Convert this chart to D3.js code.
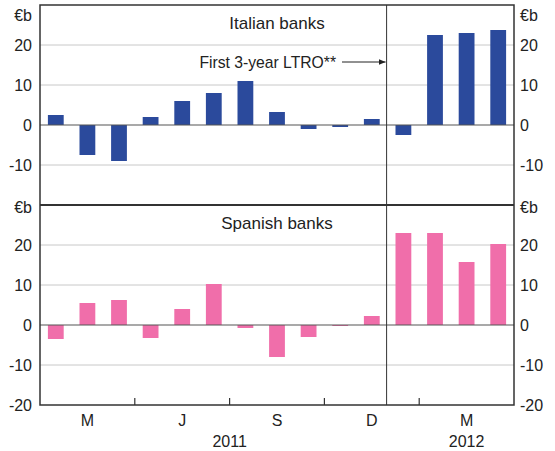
<!DOCTYPE html>
<html>
<head>
<meta charset="utf-8">
<script src="https://cdn.jsdelivr.net/npm/d3@7"></script>
<style>
  body { margin: 0; background: #fff; }
  svg text { font-family: "Liberation Sans", Arial, sans-serif; fill: #222; }
</style>
</head>
<body>
<div id="chart"></div>
<script>
// Monthly net change, Feb 2011 to Apr 2012 (€b)
const months = ["Feb-11", "Mar-11", "Apr-11", "May-11", "Jun-11", "Jul-11", "Aug-11", "Sep-11",
                "Oct-11", "Nov-11", "Dec-11", "Jan-12", "Feb-12", "Mar-12", "Apr-12"];
const italian = [2.5, -7.5, -9, 2, 6, 8, 11, 3.25, -1, -0.5, 1.5, -2.5, 22.5, 23, 23.75];
const spanish = [-3.5, 5.5, 6.25, -3.25, 4, 10.25, -0.75, -8, -3, -0.25, 2.25, 23, 23, 15.75, 20.25];

const monthLabels = [{ m: "Mar-11", t: "M" }, { m: "Jun-11", t: "J" }, { m: "Sep-11", t: "S" },
                     { m: "Dec-11", t: "D" }, { m: "Mar-12", t: "M" }];
const yTicks = [-10, 0, 10, 20];

const W = 555, H = 451;
const margin = { left: 40, right: 41, top: 5 };
const panelH = 200;

const svg = d3.select("#chart").append("svg")
    .attr("width", W)
    .attr("height", H);

const x = d3.scaleBand()
    .domain(months)
    .range([margin.left, W - margin.right])
    .paddingInner(0.5)
    .paddingOuter(0.25);

const step = x.step();
const boundary = i => margin.left + i * step;

const panels = [
    { name: "Italian banks", data: italian, color: "#2b4a9c", top: margin.top },
    { name: "Spanish banks", data: spanish, color: "#f06eaa", top: margin.top + panelH }
];

panels.forEach((p, pi) => {
    const y = d3.scaleLinear()
        .domain([-20, 30])
        .range([p.top + panelH, p.top]);

    const g = svg.append("g");

    // gridlines
    g.selectAll(".grid")
        .data(yTicks.filter(d => d !== 0))
        .enter()
        .append("line")
        .attr("x1", margin.left)
        .attr("x2", W - margin.right)
        .attr("y1", d => y(d))
        .attr("y2", d => y(d))
        .attr("stroke", "#c8c8c8")
        .attr("stroke-width", 1);

    // bars
    g.selectAll(".bar")
        .data(p.data)
        .enter()
        .append("rect")
        .attr("x", (d, i) => x(months[i]))
        .attr("width", x.bandwidth())
        .attr("y", d => y(Math.max(0, d)))
        .attr("height", d => Math.abs(y(d) - y(0)))
        .attr("fill", p.color);

    // zero line
    g.append("line")
        .attr("x1", margin.left)
        .attr("x2", W - margin.right)
        .attr("y1", y(0))
        .attr("y2", y(0))
        .attr("stroke", "#555")
        .attr("stroke-width", 1.2);

    // axis labels both sides
    const labels = pi === 0 ? yTicks : [-20].concat(yTicks);
    [["end", margin.left - 8], ["start", W - margin.right + 6]].forEach(([anchor, lx]) => {
        g.selectAll(null)
            .data(labels)
            .enter()
            .append("text")
            .attr("x", lx)
            .attr("y", d => y(d))
            .attr("dy", "0.36em")
            .attr("text-anchor", anchor)
            .style("font-size", "16px")
            .text(d => d);

        g.append("text")
            .attr("x", lx)
            .attr("y", pi === 0 ? y(30) + 10 : y(30) + 2)
            .attr("dy", "0.36em")
            .attr("text-anchor", anchor)
            .style("font-size", "16px")
            .text("€b");
    });

    // panel title
    g.append("text")
        .attr("x", 277)
        .attr("y", p.top + 18)
        .attr("dy", "0.36em")
        .attr("text-anchor", "middle")
        .style("font-size", "17px")
        .text(p.name);
});

// frame
const plotTop = margin.top, plotBottom = margin.top + 2 * panelH;
svg.append("rect")
    .attr("x", margin.left)
    .attr("y", plotTop)
    .attr("width", W - margin.left - margin.right)
    .attr("height", plotBottom - plotTop)
    .attr("fill", "none")
    .attr("stroke", "#333")
    .attr("stroke-width", 1.5);

svg.append("line")
    .attr("x1", margin.left)
    .attr("x2", W - margin.right)
    .attr("y1", plotTop + panelH)
    .attr("y2", plotTop + panelH)
    .attr("stroke", "#333")
    .attr("stroke-width", 2);

// year divider
svg.append("line")
    .attr("x1", boundary(11) - 1)
    .attr("x2", boundary(11) - 1)
    .attr("y1", plotTop)
    .attr("y2", plotBottom)
    .attr("stroke", "#333")
    .attr("stroke-width", 1);

// quarter ticks
svg.selectAll(".qtick")
    .data([3, 6, 9, 12])
    .enter()
    .append("line")
    .attr("x1", d => boundary(d))
    .attr("x2", d => boundary(d))
    .attr("y1", plotBottom)
    .attr("y2", plotBottom - 7)
    .attr("stroke", "#333")
    .attr("stroke-width", 1.2);

// month labels
svg.selectAll(".mlabel")
    .data(monthLabels)
    .enter()
    .append("text")
    .attr("x", d => x(d.m) + x.bandwidth() / 2)
    .attr("y", 420)
    .attr("dy", "0.36em")
    .attr("text-anchor", "middle")
    .style("font-size", "16px")
    .text(d => d.t);

// year labels
svg.append("text")
    .attr("x", boundary(6))
    .attr("y", 441)
    .attr("dy", "0.36em")
    .attr("text-anchor", "middle")
    .style("font-size", "16px")
    .text("2011");

svg.append("text")
    .attr("x", x("Mar-12") + x.bandwidth() / 2)
    .attr("y", 441)
    .attr("dy", "0.36em")
    .attr("text-anchor", "middle")
    .style("font-size", "16px")
    .text("2012");

// LTRO annotation
svg.append("defs").append("marker")
    .attr("id", "arrow")
    .attr("viewBox", "0 0 10 10")
    .attr("refX", 10)
    .attr("refY", 5)
    .attr("markerWidth", 7)
    .attr("markerHeight", 7)
    .attr("orient", "auto")
    .append("path")
    .attr("d", "M0,1 L10,5 L0,9 Z")
    .attr("fill", "#222");

svg.append("text")
    .attr("x", 336)
    .attr("y", 62)
    .attr("dy", "0.36em")
    .attr("text-anchor", "end")
    .style("font-size", "15.7px")
    .text("First 3-year LTRO**");

svg.append("line")
    .attr("x1", 342)
    .attr("x2", boundary(11) - 2)
    .attr("y1", 62)
    .attr("y2", 62)
    .attr("stroke", "#222")
    .attr("stroke-width", 1)
    .attr("marker-end", "url(#arrow)");
</script>
</body>
</html>
